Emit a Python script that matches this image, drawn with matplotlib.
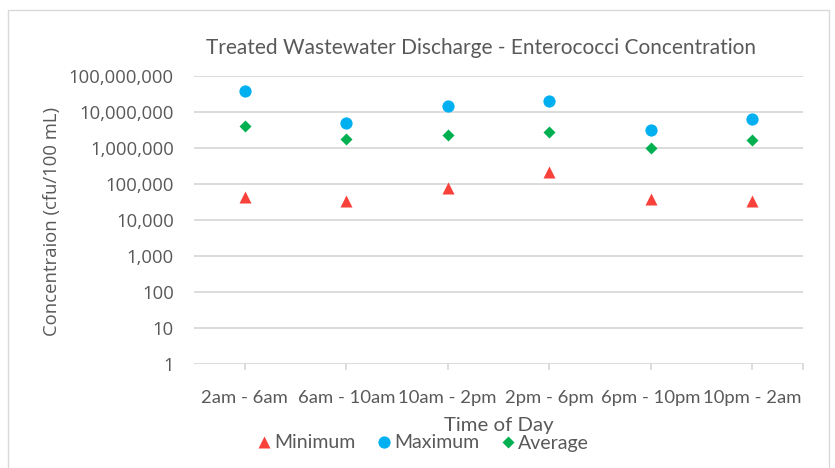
import matplotlib
matplotlib.use("Agg")
import matplotlib.pyplot as plt
from matplotlib.patches import Rectangle
from matplotlib.lines import Line2D
import numpy as np

categories = ["2am - 6am", "6am - 10am", "10am - 2pm", "2pm - 6pm", "6pm - 10pm", "10pm - 2am"]
minimum = [44000, 34000, 78000, 210000, 39000, 33000]
maximum = [37600000, 4900000, 14700000, 19400000, 3200000, 6300000]
average = [4000000, 1710000, 2290000, 2670000, 1000000, 1640000]
ytick_vals = [1, 10, 100, 1000, 10000, 100000, 1000000, 10000000, 100000000]
ytick_labels = ["1", "10", "100", "1,000", "10,000", "100,000", "1,000,000", "10,000,000", "100,000,000"]

W, H = 835, 468
fig = plt.figure(figsize=(W / 100, H / 100), dpi=100)
TXT = "#595959"
GRID = "#D9D9D9"
CAL = "Lato"
SEG = "Open Sans"

# chart border
fig.patches.append(Rectangle((7.5 / W, -0.01), (828.5 - 7.5) / W, 1 - 9.5 / H + 0.01,
                             transform=fig.transFigure, fill=False, edgecolor=GRID, lw=1.0))

left, right, top, bottom = 194, 803, 75.7, 364
ax = fig.add_axes([left / W, 1 - bottom / H, (right - left) / W, (bottom - top) / H])
x = np.arange(1, len(categories) + 1)
ax.set_yscale("log")
ax.set_ylim(1, 1e8)
ax.set_xlim(0.5, len(categories) + 0.5)

for v in ytick_vals:
    ax.axhline(v, color=GRID, lw=1.3, zorder=0)

ax.plot(x, minimum, linestyle="none", marker="^", ms=8.8, color="#F8413B", mec="none", label="Minimum", zorder=3)
ax.plot(x, maximum, linestyle="none", marker="o", ms=8.8, color="#00B0F0", mec="none", label="Maximum", zorder=3)
ax.plot(x, average, linestyle="none", marker="D", ms=6.5, color="#00B050", mec="none", label="Average", zorder=3)

for s in ax.spines.values():
    s.set_visible(False)

ax.set_yticks(ytick_vals)
ax.set_yticklabels(ytick_labels, fontfamily=SEG)
ax.yaxis.set_minor_locator(matplotlib.ticker.NullLocator())
ax.tick_params(axis="y", length=0, pad=14.5, labelsize=13.3, labelcolor=TXT)

ax.set_xticks(x)
ax.set_xticklabels(categories, fontfamily=CAL)
ax.tick_params(axis="x", length=0, pad=19, labelsize=13.3, labelcolor=TXT)
# x-axis tick marks at categories and right end
for xv in list(x) + [len(categories) + 0.5]:
    ax.plot([xv, xv], [1, 10 ** (-5 / 36)], color=GRID, lw=1.3, clip_on=False, zorder=1)

fig.text(481 / W, 1 - 48 / H, "Treated Wastewater Discharge - Enterococci Concentration",
         ha="center", va="center", fontsize=15, color=TXT, family=CAL)
fig.text(52 / W, 1 - 221 / H, "Concentraion (cfu/100 mL)", rotation=90,
         ha="center", va="center", fontsize=13.3, color=TXT, family=SEG)
fig.text(499 / W, 1 - 425 / H, "Time of Day", ha="center", va="center", fontsize=14.7, color=TXT, family=CAL)

handles = [
    Line2D([], [], linestyle="none", marker="^", ms=8.8, color="#F8413B", mec="none"),
    Line2D([], [], linestyle="none", marker="o", ms=8.8, color="#00B0F0", mec="none"),
    Line2D([], [], linestyle="none", marker="D", ms=6.5, color="#00B050", mec="none"),
]
leg = fig.legend(handles, ["Minimum", "Maximum", "Average"], loc="center",
                 bbox_to_anchor=(423 / W, 1 - 443 / H), ncol=3, frameon=False,
                 handlelength=0.7, handletextpad=0.2, columnspacing=1.1,
                 prop={"family": CAL, "size": 14})
for t in leg.get_texts():
    t.set_color(TXT)

fig.savefig("out.png", dpi=100, facecolor="white")
